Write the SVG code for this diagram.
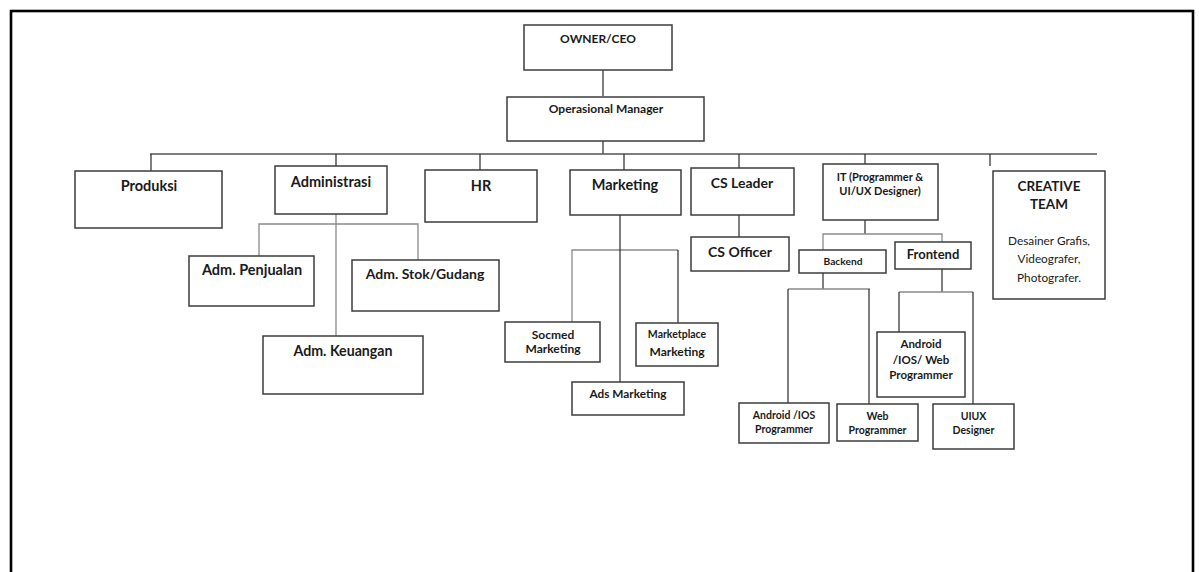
<svg xmlns="http://www.w3.org/2000/svg" width="1199" height="572" viewBox="0 0 1199 572">
<style>
.box{fill:#fff;stroke:#3c3c3c;stroke-width:1.5}
.ln{fill:none;stroke:#2a2a2a;stroke-width:1.2}
.lg{fill:none;stroke:#8a8a8a;stroke-width:1.3}
text{font-family:Lato,"Open Sans","Liberation Sans",sans-serif;fill:#1a1a1a;text-anchor:middle;font-weight:bold}
.reg{font-weight:normal}
</style>
<rect x="0" y="0" width="1199" height="572" fill="#fff"/>
<rect x="11" y="11" width="1182" height="600" fill="none" stroke="#000" stroke-width="2.6"/>
<g id="connectors">
<path class="ln" d="M603 70V96M603 141V154"/>
<path class="lg" d="M150 154H1097" style="stroke:#555"/>
<path class="ln" d="M151 154V171M336 154V166M480 154V170M624 154V170M739 154V168M865 154V164M990 154V166"/>
<path class="lg" d="M259 256V224H418V260M336 214V336"/>
<path class="lg" d="M572 322V250H678"/>
<path class="ln" d="M678 250V323M620 215V382"/>
<path class="ln" d="M739 215V237"/>
<path class="ln" d="M865 220V234"/>
<path class="lg" d="M823 250V234H942V242"/>
<path class="ln" d="M823 273V289"/>
<path class="lg" d="M788 289H870"/>
<path class="ln" d="M788 289V403M869 289V404"/>
<path class="ln" d="M942 269V292"/>
<path class="lg" d="M899 292H973"/>
<path class="ln" d="M899 292V332M973 292V404"/>
</g>
<g id="owner"><rect class="box" x="524" y="25" width="148" height="45"/><text x="598" y="43" font-size="12">OWNER/CEO</text></g>
<g id="opman"><rect class="box" x="507" y="97" width="197" height="44"/><text x="606" y="113" font-size="12">Operasional Manager</text></g>
<g id="produksi"><rect class="box" x="75" y="171" width="147" height="57"/><text x="149" y="191" font-size="14.5">Produksi</text></g>
<g id="administrasi"><rect class="box" x="275" y="166" width="112" height="48"/><text x="331" y="187" font-size="14.5">Administrasi</text></g>
<g id="hr"><rect class="box" x="425" y="170" width="112" height="52"/><text x="481" y="191" font-size="14.5">HR</text></g>
<g id="marketing"><rect class="box" x="570" y="170" width="111" height="45"/><text x="625" y="190" font-size="14.5">Marketing</text></g>
<g id="csleader"><rect class="box" x="691" y="168" width="103" height="47"/><text x="742" y="188" font-size="14">CS Leader</text></g>
<g id="it"><rect class="box" x="823" y="164" width="115" height="56"/><text x="880" y="181" font-size="11">IT (Programmer &amp;</text><text x="880" y="195" font-size="11">UI/UX Designer)</text></g>
<g id="creative"><rect class="box" x="993" y="171" width="112" height="128"/><text x="1049" y="191" font-size="13.5">CREATIVE</text><text x="1049" y="209" font-size="13.5">TEAM</text><text class="reg" x="1049" y="245" font-size="11.8">Desainer Grafis,</text><text class="reg" x="1049" y="263" font-size="11.8">Videografer,</text><text class="reg" x="1049" y="282" font-size="11.8">Photografer.</text></g>
<g id="admpenjualan"><rect class="box" x="189" y="256" width="125" height="50"/><text x="252" y="275" font-size="14.5">Adm. Penjualan</text></g>
<g id="admstok"><rect class="box" x="352" y="260" width="147" height="51"/><text x="425" y="279" font-size="14">Adm. Stok/Gudang</text></g>
<g id="admkeuangan"><rect class="box" x="263" y="336" width="160" height="58"/><text x="343" y="356" font-size="14.2">Adm. Keuangan</text></g>
<g id="socmed"><rect class="box" x="505" y="322" width="95" height="40"/><text x="553" y="339" font-size="12">Socmed</text><text x="553" y="353" font-size="12">Marketing</text></g>
<g id="marketplace"><rect class="box" x="636" y="323" width="82" height="43"/><text x="677" y="338" font-size="10.5">Marketplace</text><text x="677" y="356" font-size="12">Marketing</text></g>
<g id="ads"><rect class="box" x="572" y="382" width="112" height="33"/><text x="628" y="398" font-size="11.8">Ads Marketing</text></g>
<g id="csofficer"><rect class="box" x="691" y="237" width="98" height="34"/><text x="740" y="257" font-size="14">CS Officer</text></g>
<g id="backend"><rect class="box" x="799" y="250" width="87" height="23"/><text x="843" y="265" font-size="10.2">Backend</text></g>
<g id="frontend"><rect class="box" x="895" y="242" width="76" height="27"/><text x="933" y="259" font-size="13">Frontend</text></g>
<g id="androidiosweb"><rect class="box" x="877" y="332" width="88" height="65"/><text x="921" y="348" font-size="11.5">Android</text><text x="921" y="364" font-size="11.5">/IOS/ Web</text><text x="921" y="379" font-size="11.5">Programmer</text></g>
<g id="androidios"><rect class="box" x="739" y="403" width="90" height="40"/><text x="784" y="419" font-size="10.5">Android /IOS</text><text x="784" y="433" font-size="10.5">Programmer</text></g>
<g id="webprog"><rect class="box" x="837" y="404" width="81" height="37"/><text x="877.5" y="420" font-size="10.5">Web</text><text x="877.5" y="434" font-size="10.5">Programmer</text></g>
<g id="uiux"><rect class="box" x="933" y="404" width="81" height="45"/><text x="973.5" y="420" font-size="10.5">UIUX</text><text x="973.5" y="434" font-size="10.5">Designer</text></g>
</svg>
